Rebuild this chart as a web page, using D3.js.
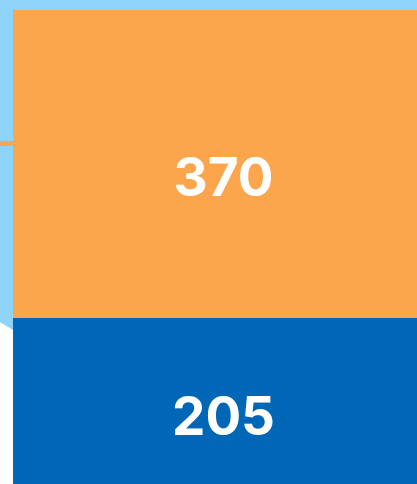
<!DOCTYPE html>
<html>
<head>
<meta charset="utf-8">
<script src="https://cdn.jsdelivr.net/npm/d3@7"></script>
<style>
  html, body { margin: 0; padding: 0; background: #fff; overflow: hidden; }
  svg { display: block; }
</style>
</head>
<body>
<svg id="chart" width="417" height="484"></svg>
<script>
// values
var categories = ["A", "B"];
var values = [370, 205];
var colors = ["#fba54c", "#0066b6"];

var width = 417, height = 484;
var svg = d3.select("#chart");

// stacked cells: top starts at y=10, 370 units span ~308px
var total = d3.sum(values);
var y = d3.scaleLinear().domain([0, total]).range([10, 10 + total * 308 / 370]);
var x0 = 13, x1 = 434;

// light blue parent shape behind, with cut lower-left corner
svg.append("path")
    .attr("d", "M0,0 L" + width + ",0 L" + width + ",330 L13,330 L0,322 Z")
    .attr("fill", "#8ed3f9");

// little orange strip at left edge
svg.append("rect")
    .attr("x", 0).attr("y", 141)
    .attr("width", 13).attr("height", 5)
    .attr("fill", "#fba54c");

var stack = [];
var acc = 0;
values.forEach(function(v, i){
    stack.push({cat: categories[i], value: v, start: acc, end: acc + v, color: colors[i]});
    acc += v;
});

var cells = svg.selectAll("g.cell")
    .data(stack)
    .enter().append("g")
    .attr("class", "cell");

cells.append("rect")
    .attr("x", x0)
    .attr("y", function(d){ return y(d.start); })
    .attr("width", x1 - x0)
    .attr("height", function(d){ return y(d.end) - y(d.start); })
    .attr("fill", function(d){ return d.color; });

cells.append("text")
    .attr("x", (x0 + x1) / 2)
    .attr("y", function(d){ return (y(d.start) + y(d.end)) / 2 + 32; })
    .attr("text-anchor", "middle")
    .style("font-family", "Inter, 'Noto Sans', sans-serif")
    .style("font-weight", "700")
    .style("font-size", "53px")
    .style("fill", "#fff")
    .text(function(d){ return d.value; });
</script>
</body>
</html>
